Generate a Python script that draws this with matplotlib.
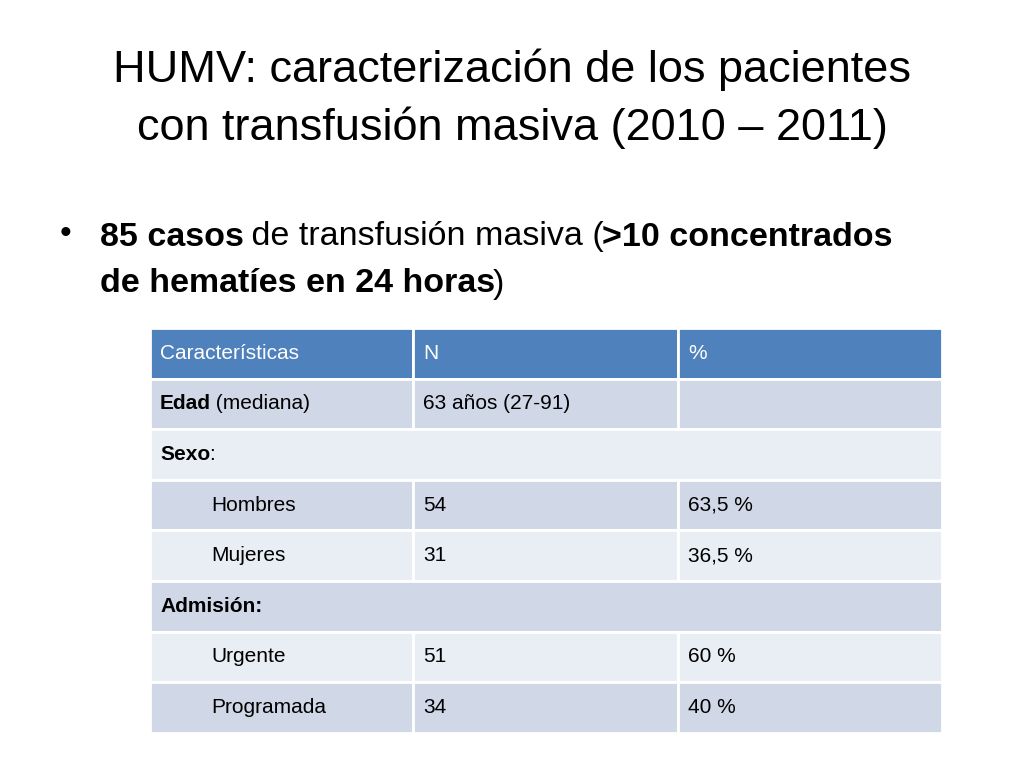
import matplotlib
matplotlib.use("Agg")
import matplotlib.pyplot as plt
from matplotlib.patches import Rectangle

title_lines = ["HUMV: caracterización de los pacientes", "con transfusión masiva (2010 – 2011)"]
bullet_line1 = [("85 casos", True), (" de transfusión masiva (", False), (">10 concentrados", True)]
bullet_line2 = [("de hematíes en 24 horas", True), (")", False)]
header = ["Características", "N", "%"]
rows = [
    ([("Edad", True), (" (mediana)", False)], "63 años (27-91)", "", False),
    ([("Sexo", True), (":", False)], None, None, False),
    ([("Hombres", False)], "54", "63,5 %", True),
    ([("Mujeres", False)], "31", "36,5 %", True),
    ([("Admisión:", True)], None, None, False),
    ([("Urgente", False)], "51", "60 %", True),
    ([("Programada", False)], "34", "40 %", True),
]
FONT = "Liberation Sans"

fig = plt.figure(figsize=(10.24, 7.68), dpi=100)
ax = fig.add_axes([0, 0, 1, 1])
ax.set_xlim(0, 1024); ax.set_ylim(768, 0); ax.axis("off")
fig.canvas.draw()
r = fig.canvas.get_renderer()

def runs(x, y, parts, size, color="black"):
    for txt, b in parts:
        t = ax.text(x, y, txt, fontsize=size, fontweight="bold" if b else "normal",
                    family=FONT, va="center", ha="left", color=color)
        bb = t.get_window_extent(renderer=r)
        x += bb.width - 0.08 * size
    return x

for i, l in enumerate(title_lines):
    ax.text(512, 70 + 58 * i, l, fontsize=32.5, family=FONT, ha="center", va="center", color="black")

ax.text(60, 235, "•", fontsize=24, family=FONT, va="center")
runs(100, 237, bullet_line1, 24.5)
runs(100, 284, bullet_line2, 24.5)

xs = [150, 413, 678, 942]
y0, h = 328, 50.6
for j, hd in enumerate(header):
    ax.add_patch(Rectangle((xs[j], y0), xs[j+1]-xs[j], h, fc="#4F81BD", ec="white", lw=2))
    ax.text(xs[j] + 10, y0 + h/2, hd, fontsize=15, family=FONT, color="white", va="center")
for i, (lab, n, p, indent) in enumerate(rows):
    y = y0 + h * (i + 1)
    col = "#D0D8E8" if i % 2 == 0 else "#E9EDF4"
    if n is None:
        ax.add_patch(Rectangle((xs[0], y), xs[3]-xs[0], h, fc=col, ec="white", lw=2))
    else:
        for j in range(3):
            ax.add_patch(Rectangle((xs[j], y), xs[j+1]-xs[j], h, fc=col, ec="white", lw=2))
        ax.text(xs[1] + 10, y + h/2, n, fontsize=15, family=FONT, va="center")
        ax.text(xs[2] + 10, y + h/2, p, fontsize=15, family=FONT, va="center")
    runs(xs[0] + (61 if indent else 10), y + h/2, lab, 15)

fig.savefig("out.png", dpi=100)
